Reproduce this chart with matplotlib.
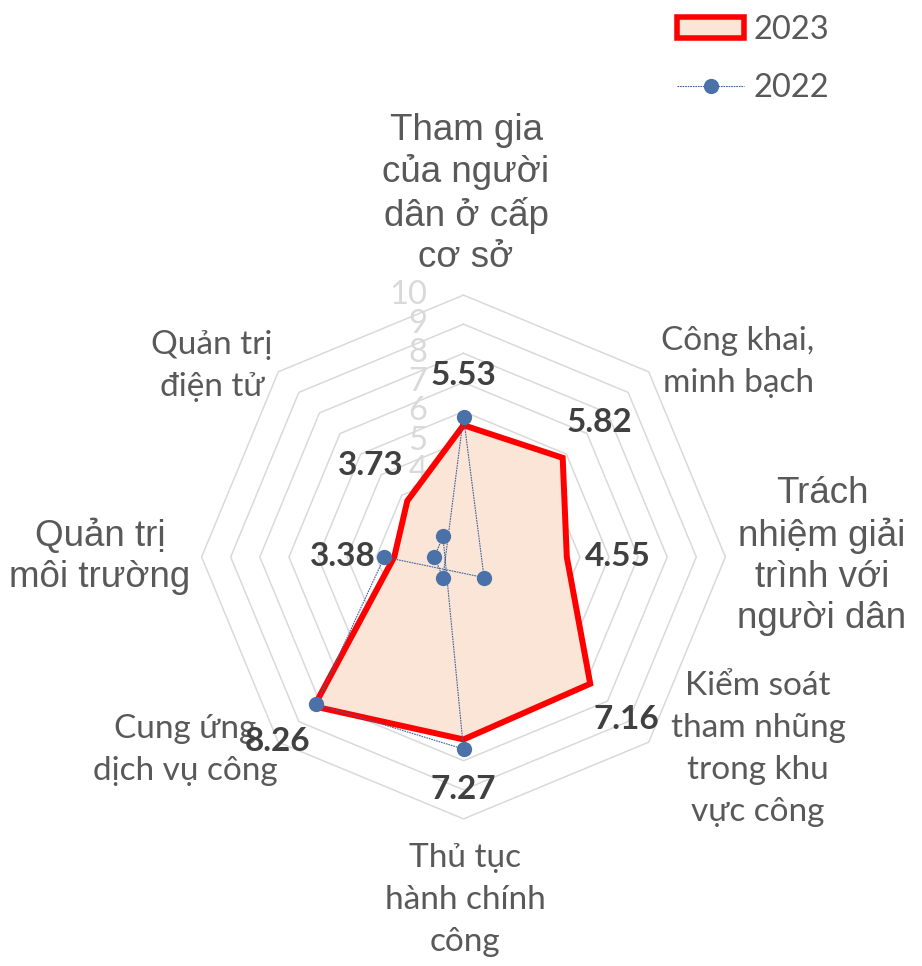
import numpy as np
import matplotlib.pyplot as plt
from matplotlib.patches import Patch
from matplotlib.lines import Line2D

categories = [
    "Tham gia\ncủa người\ndân ở cấp\ncơ sở",
    "Công khai,\nminh bạch",
    "Trách\nnhiệm giải\ntrình với\nngười dân",
    "Kiểm soát\ntham nhũng\ntrong khu\nvực công",
    "Thủ tục\nhành chính\ncông",
    "Cung ứng\ndịch vụ công",
    "Quản trị\nmôi trường",
    "Quản trị\nđiện tử",
]
score_2023 = [5.53, 5.82, 4.55, 7.16, 7.27, 8.26, 3.38, 3.73]
score_2022 = [5.82, 0, 0, 0, 7.6, 8.15, 3.72, 0]
ticks = list(range(1, 11))

r_min = 1
n = len(categories)
angles = np.arange(n) * 2 * np.pi / n

# pixel layout: centre of the web and pixels per unit
W, H = 922, 966
cx, cy, s = 463.5, 557, 29.1

CALIBRI = ["Lato", "DejaVu Sans"]
ARIAL = ["Liberation Sans", "DejaVu Sans"]


def to_xy(values):
    # values under r_min end up on the opposite side, like Excel does
    r = np.asarray(values, float) - r_min
    return r * np.sin(angles), r * np.cos(angles)


def closed(x, y):
    return np.append(x, x[0]), np.append(y, y[0])


def px(x, y):
    return (x - cx) / s, (cy - y) / s


fig = plt.figure(figsize=(W / 100, H / 100), dpi=100)
ax = fig.add_axes([0, 0, 1, 1])
ax.set_xlim(-cx / s, (W - cx) / s)
ax.set_ylim(-(H - cy) / s, cy / s)
ax.axis("off")

# octagon grid
for v in ticks[1:]:
    gx, gy = to_xy([v] * n)
    ax.plot(*closed(gx, gy), color="#d9d9d9", lw=1.1, zorder=1)

for v in ticks:
    ax.text(-1.25, v - r_min, str(v), ha="right", va="center",
            fontsize=23.5, color="#d9d9d9", family=CALIBRI, zorder=2)

# 2023 filled area
x23, y23 = closed(*to_xy(score_2023))
ax.fill(x23, y23, color="#fbe5d6", zorder=3)
ax.plot(x23, y23, color="#ff0000", lw=4.3, solid_joinstyle="miter", zorder=4)

# 2022 line
x22, y22 = closed(*to_xy(score_2022))
ax.plot(x22, y22, color="#3d62a0", lw=0.8, ls=(0, (1.5, 0.8)), zorder=5)
ax.plot(x22[:-1], y22[:-1], "o", color="#4a72a8", ms=11, mec="none", zorder=6)

# value labels for 2023
px23, py23 = to_xy(score_2023)
for xv, yv, a, val in zip(px23, py23, angles, score_2023):
    ax.annotate(f"{val:.2f}", (xv, yv),
                xytext=(37 * np.sin(a), 36 * np.cos(a)), textcoords="offset points",
                ha="center", va="center", fontsize=24, fontweight="bold",
                color="#404040", family=CALIBRI, zorder=7)

# category labels
label_pos = [(466, 194), (738, 362), (822, 556), (758, 749),
             (465, 900), (185, 750), (100, 557), (212, 366)]
label_font = [ARIAL, CALIBRI, ARIAL, CALIBRI, CALIBRI, CALIBRI, ARIAL, CALIBRI]
label_size = [26.5, 24, 26.5, 24, 24, 24, 26.5, 24]
label_gap = [1.23, 1.5, 1.23, 1.5, 1.5, 1.5, 1.23, 1.5]
for text, (lx, ly), fam, fs, gap in zip(categories, label_pos, label_font,
                                        label_size, label_gap):
    ax.text(*px(lx, ly), text, ha="center", va="center", fontsize=fs,
            color="#595959", family=fam, linespacing=gap, zorder=2)

handles = [
    Patch(facecolor="#fbe5d6", edgecolor="#ff0000", lw=4),
    Line2D([], [], color="#3d62a0", lw=0.8, ls=(0, (1.5, 0.8)),
           marker="o", ms=11, mfc="#4a72a8", mec="none"),
]
leg = ax.legend(handles, ["2023", "2022"], loc="upper left",
                bbox_to_anchor=(664 / W, 1 - 2 / H), bbox_transform=fig.transFigure,
                frameon=False, prop={"family": CALIBRI, "size": 23.5},
                handlelength=2.05, handleheight=0.65, handletextpad=0.3,
                labelspacing=0.85, borderaxespad=0)
for t in leg.get_texts():
    t.set_color("#595959")

fig.savefig("out.png", dpi=100)
